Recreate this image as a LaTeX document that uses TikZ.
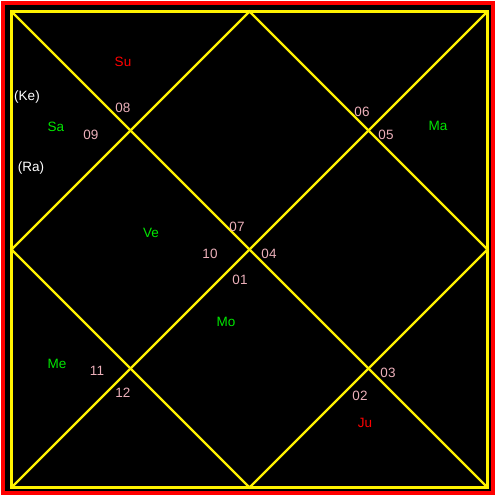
\documentclass[tikz,border=0pt]{standalone}
\usepackage{fontspec}
\setmainfont{Liberation Sans}
\definecolor{housepink}{RGB}{235,175,185}
\definecolor{planetgreen}{RGB}{0,230,0}
\tikzset{
  chartline/.style={draw=yellow, line width=2.2pt},
  house/.style={text=housepink, font=\fontsize{13.5}{13.5}\selectfont, inner sep=0pt},
  good/.style={text=planetgreen, font=\fontsize{13.5}{13.5}\selectfont, inner sep=0pt},
  bad/.style={text=red, font=\fontsize{13.5}{13.5}\selectfont, inner sep=0pt},
  node/.style={text=white, font=\fontsize{13.5}{13.5}\selectfont, inner sep=0pt},
}

\begin{document}
\begin{tikzpicture}[x=1pt, y=-1pt]
  \useasboundingbox (0,0) rectangle (500,500);
  \fill[white] (0,0) rectangle (500,500);
  \draw[red, line width=4pt, fill=black] (3,3) rectangle (493,493);
  \coordinate (tl) at (11.5,11.5);
  \coordinate (tr) at (487.5,11.5);
  \coordinate (br) at (487.5,487.5);
  \coordinate (bl) at (11.5,487.5);
  \coordinate (t) at (249.5,11.5);
  \coordinate (r) at (487.5,249.5);
  \coordinate (b) at (249.5,487.5);
  \coordinate (l) at (11.5,249.5);
  \draw[chartline] (tl) rectangle (br);
  \draw[chartline] (tl) -- (br);
  \draw[chartline] (tr) -- (bl);
  \draw[chartline] (t) -- (r) -- (b) -- (l) -- cycle;
  % house numbers
  \node[house] (h01) at (240,280) {01};
  \node[house] (h02) at (360,396) {02};
  \node[house] (h03) at (388,373) {03};
  \node[house] (h04) at (269,254) {04};
  \node[house] (h05) at (386,135) {05};
  \node[house] (h06) at (362,112) {06};
  \node[house] (h07) at (237,227) {07};
  \node[house] (h08) at (123,108) {08};
  \node[house] (h09) at (91,135) {09};
  \node[house] (h10) at (210,254) {10};
  \node[house] (h11) at (97,371) {11};
  \node[house] (h12) at (123,393) {12};
  % planets
  \node[bad] (su) at (123,62) {Su};
  \node[node] (ke) at (27,97) {(Ke)};
  \node[good] (sa) at (56,127) {Sa};
  \node[node] (ra) at (31,168) {(Ra)};
  \node[good] (ma) at (438,126) {Ma};
  \node[good] (ve) at (151,233) {Ve};
  \node[good] (mo) at (226,322) {Mo};
  \node[good] (me) at (57,364) {Me};
  \node[bad] (ju) at (365,423) {Ju};
\end{tikzpicture}
\end{document}
